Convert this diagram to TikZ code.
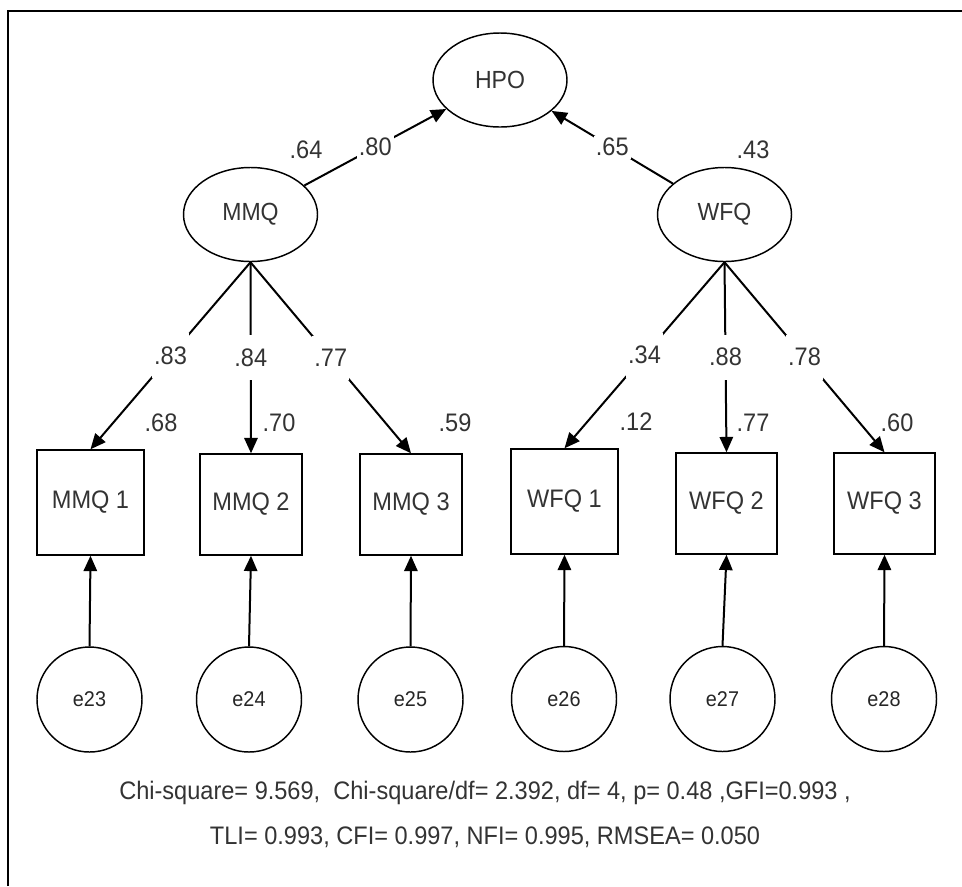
\documentclass[tikz,border=0pt]{standalone}
\usepackage{fontspec}
\setmainfont{Liberation Sans}[FakeStretch=0.93]
\usetikzlibrary{shapes.geometric,arrows.meta}
\definecolor{txt}{HTML}{333333}
\begin{document}
\begin{tikzpicture}[x=0.75pt,y=-0.75pt,
  latent/.style={ellipse, draw, line width=1.1pt, minimum width=100.5pt,
    minimum height=70.5pt, inner sep=0pt, text=txt,
    font=\fontsize{18.6pt}{21pt}\selectfont},
  indic/.style={rectangle, draw, line width=1.1pt, inner sep=0pt, text=txt,
    font=\fontsize{19pt}{21pt}\selectfont},
  errc/.style={circle, draw, line width=1.1pt, minimum size=78.75pt,
    inner sep=0pt, text=black!85, font=\fontsize{16pt}{18pt}\selectfont},
  effect/.style={line width=1.5pt, -{Triangle[length=11.5pt,width=10pt]}},
  coef/.style={fill=white, inner xsep=1.5pt, inner ysep=10pt, text=txt,
    font=\fontsize{19pt}{21pt}\selectfont},
  rsq/.style={inner sep=0pt, text=txt, font=\fontsize{19pt}{21pt}\selectfont},
  stats/.style={inner sep=0pt, text=txt, font=\fontsize{19pt}{21pt}\selectfont}]

\useasboundingbox (0,0) rectangle (962,886);

% open frame: left and top edges only
\draw[line width=1.6pt] (8,886) -- (8,11) -- (962,11);

% latent factors
\node[latent] (HPO) at (500,80) {HPO};
\node[latent] (MMQ) at (250.5,214.5) {MMQ};
\node[latent] (WFQ) at (724.5,214.5) {WFQ};

% observed indicators
\node[indic, minimum width=80.25pt, minimum height=78.75pt] (MMQ1) at (90.5,502.5) {MMQ 1};
\node[indic, minimum width=76.5pt, minimum height=75.75pt] (MMQ2) at (251,504.5) {MMQ 2};
\node[indic, minimum width=76.5pt, minimum height=75.75pt] (MMQ3) at (411,504.5) {MMQ 3};
\node[indic, minimum width=80.25pt, minimum height=78.75pt] (WFQ1) at (564.5,501.5) {WFQ 1};
\node[indic, minimum width=75.75pt, minimum height=75.75pt] (WFQ2) at (726.5,503.5) {WFQ 2};
\node[indic, minimum width=75.75pt, minimum height=75.75pt] (WFQ3) at (884.5,503.5) {WFQ 3};

% error terms
\node[errc] (e23) at (89.5,699.5) {e23};
\node[errc] (e24) at (249,699.5) {e24};
\node[errc] (e25) at (410.5,699.5) {e25};
\node[errc] (e26) at (564,699) {e26};
\node[errc] (e27) at (722.5,699) {e27};
\node[errc] (e28) at (884,699) {e28};

% second-order paths
\draw[effect] (MMQ) -- node[coef, inner ysep=2pt] {.80} (HPO);
\draw[effect] (WFQ) -- node[coef, inner ysep=2pt] {.65} (HPO);

% factor loadings
\draw[effect] (MMQ.south) -- node[coef] {.83} (MMQ1.north);
\draw[effect] (MMQ.south) -- node[coef] {.84} (MMQ2.north);
\draw[effect] (MMQ.south) -- node[coef] {.77} (MMQ3.north);
\draw[effect] (WFQ.south) -- node[coef] {.34} (WFQ1.north);
\draw[effect] (WFQ.south) -- node[coef] {.88} (WFQ2.north);
\draw[effect] (WFQ.south) -- node[coef] {.78} (WFQ3.north);

% error paths
\draw[effect] (e23.north) -- (MMQ1.south);
\draw[effect] (e24.north) -- (MMQ2.south);
\draw[effect] (e25.north) -- (MMQ3.south);
\draw[effect] (e26.north) -- (WFQ1.south);
\draw[effect] (e27.north) -- (WFQ2.south);
\draw[effect] (e28.north) -- (WFQ3.south);

% squared multiple correlations
\node[rsq] (rMMQ) at (306,150) {.64};
\node[rsq] (rWFQ) at (753,150) {.43};
\node[rsq] (r1) at (161,423) {.68};
\node[rsq] (r2) at (279,423) {.70};
\node[rsq] (r3) at (455,423) {.59};
\node[rsq] (r4) at (636,422) {.12};
\node[rsq] (r5) at (753,423) {.77};
\node[rsq] (r6) at (897,423) {.60};

% fit indices
\node[stats] (fit1) at (485,793) {Chi-square= 9.569,\ \ Chi-square/df= 2.392, df= 4, p= 0.48 ,GFI=0.993 ,};
\node[stats] (fit2) at (485,837) {TLI= 0.993, CFI= 0.997, NFI= 0.995, RMSEA= 0.050};
\end{tikzpicture}
\end{document}
